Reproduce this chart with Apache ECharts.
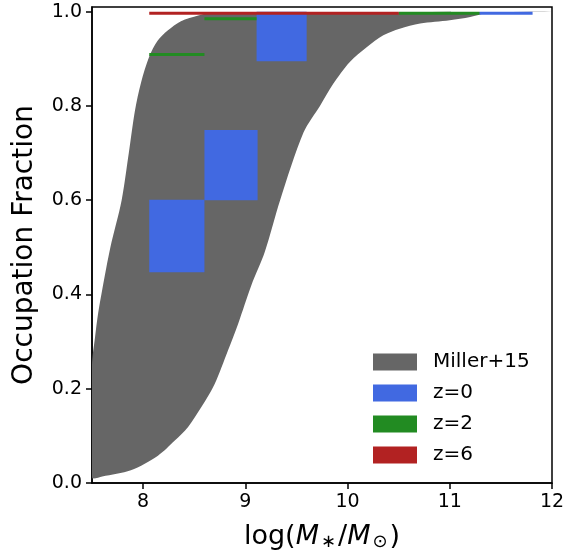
<!DOCTYPE html>
<html>
<head>
<meta charset="utf-8">
<script src="https://cdn.jsdelivr.net/npm/echarts@6/dist/echarts.min.js"></script>
<style>
  html, body { margin: 0; padding: 0; background: #fff; }
  #chart { width: 566px; height: 553px; }
</style>
</head>
<body>
<div id="chart"></div>
<script>
// Miller+15 band: upper and lower edges
var upperX = [7.5, 7.53, 7.56, 7.6, 7.68, 7.79, 7.86, 7.92, 7.98, 8.06, 8.14, 8.24, 8.37, 8.54, 8.65, 12];
var upperY = [0.25, 0.31, 0.36, 0.41, 0.50, 0.60, 0.70, 0.79, 0.85, 0.905, 0.938, 0.96, 0.98, 0.992, 0.997, 1.0];
var lowerX = [7.5, 7.6, 7.88, 8.145, 8.31, 8.44, 8.57, 8.70, 8.83, 8.93, 9.06, 9.19, 9.34, 9.57, 9.73, 9.86, 10.02, 10.19, 10.35, 10.51, 10.71, 11.0, 11.2, 11.36, 12];
var lowerY = [0.012, 0.014, 0.027, 0.058, 0.09, 0.119, 0.161, 0.21, 0.281, 0.338, 0.42, 0.49, 0.6, 0.744, 0.80, 0.847, 0.893, 0.925, 0.95, 0.964, 0.975, 0.982, 0.989, 0.997, 1.0];

// boxes: [xmin, xmax, ylow, yhigh]
var z0 = [[8.06, 8.6, 0.447, 0.601], [8.6, 9.12, 0.6, 0.749], [9.11, 9.6, 0.895, 1.0], [11.29, 11.81, 0.997, 0.997]];
var z2 = [[8.06, 8.6, 0.909, 0.909], [8.6, 9.11, 0.985, 0.985], [10.5, 11.29, 0.997, 0.997]];
var z6 = [[8.06, 10.5, 0.997, 0.997]];

var xTicks = [8, 9, 10, 11, 12];
var yTicks = [0, 0.2, 0.4, 0.6, 0.8, 1.0];

var chart = echarts.init(document.getElementById('chart'));

function bandItem(params, api) {
    var top = [], bot = [];
    for (var i = 0; i < upperX.length; i++) top.push(api.coord([upperX[i], upperY[i]]));
    for (var j = lowerX.length - 1; j >= 0; j--) bot.push(api.coord([lowerX[j], lowerY[j]]));
    return {
        type: 'polygon',
        shape: { points: top.concat(bot), smooth: 0.3 },
        style: { fill: '#666666' }
    };
}

function boxItem(params, api) {
    var p0 = api.coord([api.value(0), api.value(3)]);
    var p1 = api.coord([api.value(1), api.value(2)]);
    var h = p1[1] - p0[1];
    var y = p0[1];
    if (h < 3) { y = (p0[1] + p1[1]) / 2 - 1.5; h = 3; }
    return {
        type: 'rect',
        shape: { x: p0[0], y: y, width: p1[0] - p0[0], height: h },
        style: { fill: api.visual('color') }
    };
}

var font = 'DejaVu Sans';

var option = {
    animation: false,
    grid: {
        left: 92, right: 14, top: 7, bottom: 70,
        outerBoundsMode: 'none',
        show: true, borderColor: '#000', borderWidth: 1.5
    },
    legend: {
        orient: 'vertical',
        left: 373,
        top: 352,
        padding: 0,
        itemWidth: 44,
        itemHeight: 17,
        itemGap: 11,
        icon: 'rect',
        textStyle: { fontFamily: font, fontSize: 20, color: '#000', padding: [0, 0, 0, 11] },
        data: ['Miller+15', 'z=0', 'z=2', 'z=6']
    },
    xAxis: {
        type: 'value',
        min: 7.5,
        max: 12,
        name: '{n|log(}{i|M}{s|∗}{n|/}{i|M}{s|⊙}{n|)}',
        nameLocation: 'middle',
        nameGap: 40,
        nameTextStyle: {
            rich: {
                n: { fontFamily: font, fontSize: 27, color: '#000' },
                i: { fontFamily: font, fontSize: 27, fontStyle: 'italic', color: '#000' },
                s: { fontFamily: font, fontSize: 18, color: '#000', verticalAlign: 'bottom', padding: [10, 2, 0, 2] }
            }
        },
        axisLine: { lineStyle: { color: '#000', width: 1.5 } },
        axisTick: { show: true, length: 6, lineStyle: { color: '#000', width: 1.5 }, customValues: xTicks },
        axisLabel: { fontFamily: font, fontSize: 19, color: '#000', margin: 10, customValues: xTicks },
        splitLine: { show: false }
    },
    yAxis: {
        type: 'value',
        min: 0,
        max: 1.01,
        name: 'Occupation Fraction',
        nameLocation: 'middle',
        nameGap: 53,
        nameTextStyle: { fontFamily: font, fontSize: 28, color: '#000' },
        axisLine: { show: true, lineStyle: { color: '#000', width: 1.5 } },
        axisTick: { show: true, length: 6, lineStyle: { color: '#000', width: 1.5 }, customValues: yTicks },
        axisLabel: {
            fontFamily: font, fontSize: 19, color: '#000', margin: 10, customValues: yTicks,
            formatter: function (v) { return v.toFixed(1); }
        },
        splitLine: { show: false }
    },
    series: [
        {
            name: 'Miller+15',
            type: 'custom',
            itemStyle: { color: '#666666' },
            renderItem: bandItem,
            clip: true,
            data: [0],
            silent: true
        },
        {
            name: 'z=0',
            type: 'custom',
            itemStyle: { color: '#4169E1' },
            renderItem: boxItem,
            encode: { x: [0, 1], y: [2, 3] },
            data: z0
        },
        {
            name: 'z=2',
            type: 'custom',
            itemStyle: { color: '#228B22' },
            renderItem: boxItem,
            encode: { x: [0, 1], y: [2, 3] },
            data: z2
        },
        {
            name: 'z=6',
            type: 'custom',
            itemStyle: { color: '#B22222' },
            renderItem: boxItem,
            encode: { x: [0, 1], y: [2, 3] },
            data: z6
        }
    ]
};

chart.setOption(option);
</script>
</body>
</html>
